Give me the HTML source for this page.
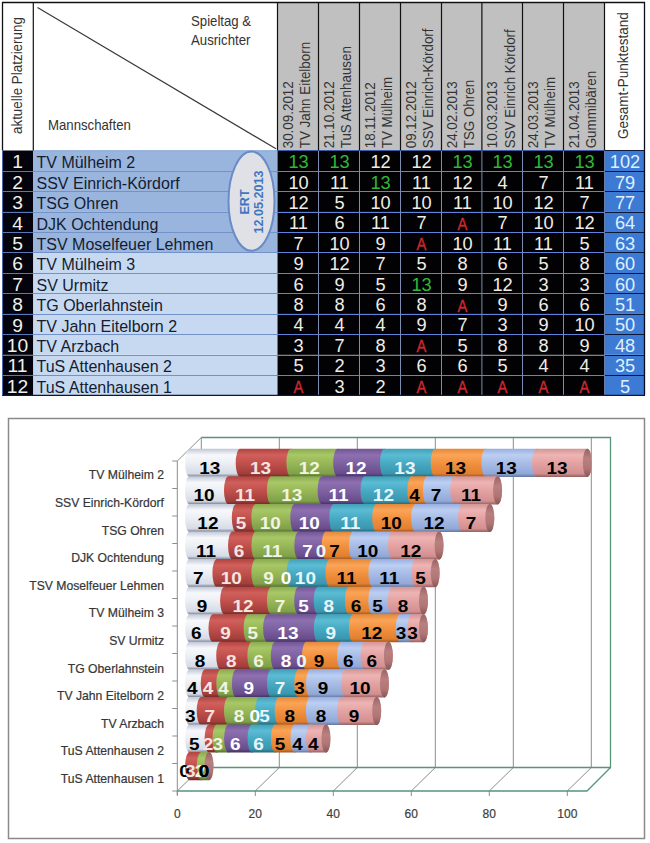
<!DOCTYPE html><html><head><meta charset="utf-8"><style>
html,body{margin:0;padding:0;background:#fff;width:650px;height:843px;overflow:hidden;position:relative}
*{font-family:"Liberation Sans", sans-serif}
.a{position:absolute;white-space:nowrap}
</style></head><body>
<svg class="a" style="left:0;top:0" width="650" height="400"><rect x="2" y="2" width="643" height="148.5" fill="#fff"/><rect x="277.5" y="2" width="327.0" height="148.5" fill="#c0c0c0"/><rect x="2.5" y="150.50" width="30.799999999999997" height="20.60" fill="#02030c"/><rect x="33.3" y="150.50" width="244.2" height="20.60" fill="#99b5dd"/><rect x="277.5" y="150.50" width="327.0" height="20.60" fill="#020204"/><rect x="604.5" y="150.50" width="40.299999999999955" height="20.60" fill="#3c7ad4"/><rect x="2.5" y="170.90" width="30.799999999999997" height="20.60" fill="#02030c"/><rect x="33.3" y="170.90" width="244.2" height="20.60" fill="#99b5dd"/><rect x="277.5" y="170.90" width="327.0" height="20.60" fill="#020204"/><rect x="604.5" y="170.90" width="40.299999999999955" height="20.60" fill="#3c7ad4"/><rect x="2.5" y="191.30" width="30.799999999999997" height="20.60" fill="#02030c"/><rect x="33.3" y="191.30" width="244.2" height="20.60" fill="#99b5dd"/><rect x="277.5" y="191.30" width="327.0" height="20.60" fill="#020204"/><rect x="604.5" y="191.30" width="40.299999999999955" height="20.60" fill="#3c7ad4"/><rect x="2.5" y="211.70" width="30.799999999999997" height="20.60" fill="#02030c"/><rect x="33.3" y="211.70" width="244.2" height="20.60" fill="#99b5dd"/><rect x="277.5" y="211.70" width="327.0" height="20.60" fill="#020204"/><rect x="604.5" y="211.70" width="40.299999999999955" height="20.60" fill="#3c7ad4"/><rect x="2.5" y="232.10" width="30.799999999999997" height="20.60" fill="#02030c"/><rect x="33.3" y="232.10" width="244.2" height="20.60" fill="#99b5dd"/><rect x="277.5" y="232.10" width="327.0" height="20.60" fill="#020204"/><rect x="604.5" y="232.10" width="40.299999999999955" height="20.60" fill="#3c7ad4"/><rect x="2.5" y="252.50" width="30.799999999999997" height="20.60" fill="#02030c"/><rect x="33.3" y="252.50" width="244.2" height="20.60" fill="#c6d9f1"/><rect x="277.5" y="252.50" width="327.0" height="20.60" fill="#020204"/><rect x="604.5" y="252.50" width="40.299999999999955" height="20.60" fill="#3c7ad4"/><rect x="2.5" y="272.90" width="30.799999999999997" height="20.60" fill="#02030c"/><rect x="33.3" y="272.90" width="244.2" height="20.60" fill="#c6d9f1"/><rect x="277.5" y="272.90" width="327.0" height="20.60" fill="#020204"/><rect x="604.5" y="272.90" width="40.299999999999955" height="20.60" fill="#3c7ad4"/><rect x="2.5" y="293.30" width="30.799999999999997" height="20.60" fill="#02030c"/><rect x="33.3" y="293.30" width="244.2" height="20.60" fill="#c6d9f1"/><rect x="277.5" y="293.30" width="327.0" height="20.60" fill="#020204"/><rect x="604.5" y="293.30" width="40.299999999999955" height="20.60" fill="#3c7ad4"/><rect x="2.5" y="313.70" width="30.799999999999997" height="20.60" fill="#02030c"/><rect x="33.3" y="313.70" width="244.2" height="20.60" fill="#c6d9f1"/><rect x="277.5" y="313.70" width="327.0" height="20.60" fill="#020204"/><rect x="604.5" y="313.70" width="40.299999999999955" height="20.60" fill="#3c7ad4"/><rect x="2.5" y="334.10" width="30.799999999999997" height="20.60" fill="#02030c"/><rect x="33.3" y="334.10" width="244.2" height="20.60" fill="#c6d9f1"/><rect x="277.5" y="334.10" width="327.0" height="20.60" fill="#020204"/><rect x="604.5" y="334.10" width="40.299999999999955" height="20.60" fill="#3c7ad4"/><rect x="2.5" y="354.50" width="30.799999999999997" height="20.60" fill="#02030c"/><rect x="33.3" y="354.50" width="244.2" height="20.60" fill="#c6d9f1"/><rect x="277.5" y="354.50" width="327.0" height="20.60" fill="#020204"/><rect x="604.5" y="354.50" width="40.299999999999955" height="20.60" fill="#3c7ad4"/><rect x="2.5" y="374.90" width="30.799999999999997" height="20.60" fill="#02030c"/><rect x="33.3" y="374.90" width="244.2" height="20.60" fill="#c6d9f1"/><rect x="277.5" y="374.90" width="327.0" height="20.60" fill="#020204"/><rect x="604.5" y="374.90" width="40.299999999999955" height="20.60" fill="#3c7ad4"/><line x1="277.5" y1="150.50" x2="604.5" y2="150.50" stroke="#3a5ca8" stroke-width="1"/><line x1="33" y1="150.80" x2="277.5" y2="150.80" stroke="#88a8d8" stroke-width="1"/><line x1="604.5" y1="150.50" x2="644.8" y2="150.50" stroke="#0c1a3a" stroke-width="1.2"/><line x1="2.5" y1="171.50" x2="33" y2="171.50" stroke="#5a78b4" stroke-width="1"/><line x1="33" y1="171.50" x2="277.5" y2="171.50" stroke="#7292c8" stroke-width="1"/><line x1="277.5" y1="171.50" x2="604.5" y2="171.50" stroke="#5f82da" stroke-width="1"/><line x1="604.5" y1="171.50" x2="644.8" y2="171.50" stroke="#0a1838" stroke-width="1.2"/><line x1="2.5" y1="191.50" x2="33" y2="191.50" stroke="#5a78b4" stroke-width="1"/><line x1="33" y1="191.50" x2="277.5" y2="191.50" stroke="#7292c8" stroke-width="1"/><line x1="277.5" y1="191.50" x2="604.5" y2="191.50" stroke="#5f82da" stroke-width="1"/><line x1="604.5" y1="191.50" x2="644.8" y2="191.50" stroke="#0a1838" stroke-width="1.2"/><line x1="2.5" y1="212.50" x2="33" y2="212.50" stroke="#5a78b4" stroke-width="1"/><line x1="33" y1="212.50" x2="277.5" y2="212.50" stroke="#7292c8" stroke-width="1"/><line x1="277.5" y1="212.50" x2="604.5" y2="212.50" stroke="#5f82da" stroke-width="1"/><line x1="604.5" y1="212.50" x2="644.8" y2="212.50" stroke="#0a1838" stroke-width="1.2"/><line x1="2.5" y1="232.50" x2="33" y2="232.50" stroke="#5a78b4" stroke-width="1"/><line x1="33" y1="232.50" x2="277.5" y2="232.50" stroke="#7292c8" stroke-width="1"/><line x1="277.5" y1="232.50" x2="604.5" y2="232.50" stroke="#5f82da" stroke-width="1"/><line x1="604.5" y1="232.50" x2="644.8" y2="232.50" stroke="#0a1838" stroke-width="1.2"/><line x1="2.5" y1="252.50" x2="33" y2="252.50" stroke="#5a78b4" stroke-width="1"/><line x1="33" y1="252.50" x2="277.5" y2="252.50" stroke="#7292c8" stroke-width="1"/><line x1="277.5" y1="252.50" x2="604.5" y2="252.50" stroke="#5f82da" stroke-width="1"/><line x1="604.5" y1="252.50" x2="644.8" y2="252.50" stroke="#0a1838" stroke-width="1.2"/><line x1="2.5" y1="273.50" x2="33" y2="273.50" stroke="#5a78b4" stroke-width="1"/><line x1="33" y1="273.50" x2="277.5" y2="273.50" stroke="#7292c8" stroke-width="1"/><line x1="277.5" y1="273.50" x2="604.5" y2="273.50" stroke="#5f82da" stroke-width="1"/><line x1="604.5" y1="273.50" x2="644.8" y2="273.50" stroke="#0a1838" stroke-width="1.2"/><line x1="2.5" y1="293.50" x2="33" y2="293.50" stroke="#5a78b4" stroke-width="1"/><line x1="33" y1="293.50" x2="277.5" y2="293.50" stroke="#7292c8" stroke-width="1"/><line x1="277.5" y1="293.50" x2="604.5" y2="293.50" stroke="#5f82da" stroke-width="1"/><line x1="604.5" y1="293.50" x2="644.8" y2="293.50" stroke="#0a1838" stroke-width="1.2"/><line x1="2.5" y1="314.50" x2="33" y2="314.50" stroke="#5a78b4" stroke-width="1"/><line x1="33" y1="314.50" x2="277.5" y2="314.50" stroke="#7292c8" stroke-width="1"/><line x1="277.5" y1="314.50" x2="604.5" y2="314.50" stroke="#5f82da" stroke-width="1"/><line x1="604.5" y1="314.50" x2="644.8" y2="314.50" stroke="#0a1838" stroke-width="1.2"/><line x1="2.5" y1="334.50" x2="33" y2="334.50" stroke="#5a78b4" stroke-width="1"/><line x1="33" y1="334.50" x2="277.5" y2="334.50" stroke="#7292c8" stroke-width="1"/><line x1="277.5" y1="334.50" x2="604.5" y2="334.50" stroke="#5f82da" stroke-width="1"/><line x1="604.5" y1="334.50" x2="644.8" y2="334.50" stroke="#0a1838" stroke-width="1.2"/><line x1="2.5" y1="355.50" x2="33" y2="355.50" stroke="#5a78b4" stroke-width="1"/><line x1="33" y1="355.50" x2="277.5" y2="355.50" stroke="#7292c8" stroke-width="1"/><line x1="277.5" y1="355.50" x2="604.5" y2="355.50" stroke="#5f82da" stroke-width="1"/><line x1="604.5" y1="355.50" x2="644.8" y2="355.50" stroke="#0a1838" stroke-width="1.2"/><line x1="2.5" y1="375.50" x2="33" y2="375.50" stroke="#5a78b4" stroke-width="1"/><line x1="33" y1="375.50" x2="277.5" y2="375.50" stroke="#7292c8" stroke-width="1"/><line x1="277.5" y1="375.50" x2="604.5" y2="375.50" stroke="#5f82da" stroke-width="1"/><line x1="604.5" y1="375.50" x2="644.8" y2="375.50" stroke="#0a1838" stroke-width="1.2"/><line x1="318.50" y1="150.5" x2="318.50" y2="395.30" stroke="#7c8cb0" stroke-width="1"/><line x1="359.50" y1="150.5" x2="359.50" y2="395.30" stroke="#7c8cb0" stroke-width="1"/><line x1="400.50" y1="150.5" x2="400.50" y2="395.30" stroke="#7c8cb0" stroke-width="1"/><line x1="441.50" y1="150.5" x2="441.50" y2="395.30" stroke="#7c8cb0" stroke-width="1"/><line x1="481.90" y1="150.5" x2="481.90" y2="395.30" stroke="#7c8cb0" stroke-width="1"/><line x1="522.50" y1="150.5" x2="522.50" y2="395.30" stroke="#7c8cb0" stroke-width="1"/><line x1="563.50" y1="150.5" x2="563.50" y2="395.30" stroke="#7c8cb0" stroke-width="1"/><line x1="604.50" y1="150.5" x2="604.50" y2="395.30" stroke="#6a7ca8" stroke-width="1"/><line x1="33.30" y1="2" x2="33.30" y2="150.50" stroke="#111" stroke-width="1.2"/><line x1="277.50" y1="2" x2="277.50" y2="150.50" stroke="#111" stroke-width="1.2"/><line x1="318.50" y1="2" x2="318.50" y2="150.50" stroke="#111" stroke-width="1.2"/><line x1="359.50" y1="2" x2="359.50" y2="150.50" stroke="#111" stroke-width="1.2"/><line x1="400.50" y1="2" x2="400.50" y2="150.50" stroke="#111" stroke-width="1.2"/><line x1="441.50" y1="2" x2="441.50" y2="150.50" stroke="#111" stroke-width="1.2"/><line x1="481.90" y1="2" x2="481.90" y2="150.50" stroke="#111" stroke-width="1.2"/><line x1="522.50" y1="2" x2="522.50" y2="150.50" stroke="#111" stroke-width="1.2"/><line x1="563.50" y1="2" x2="563.50" y2="150.50" stroke="#111" stroke-width="1.2"/><line x1="604.50" y1="2" x2="604.50" y2="150.50" stroke="#111" stroke-width="1.2"/><line x1="2" y1="2.5" x2="645" y2="2.5" stroke="#111" stroke-width="1.3"/><line x1="2.5" y1="2" x2="2.5" y2="150.5" stroke="#111" stroke-width="1.3"/><line x1="644.50" y1="2" x2="644.50" y2="395.30" stroke="#0a0f20" stroke-width="1.3"/><line x1="2" y1="395.30" x2="645" y2="395.30" stroke="#0c1838" stroke-width="1.2"/><line x1="2.5" y1="150.5" x2="2.5" y2="395.30" stroke="#4a68a8" stroke-width="1"/><line x1="37.5" y1="7.5" x2="276" y2="148.8" stroke="#3a3a3a" stroke-width="1.2"/><ellipse cx="251.5" cy="201.2" rx="23" ry="49.6" fill="#e0e1e7" stroke="#6a8cc6" stroke-width="2"/></svg>
<div class="a" style="left:191px;top:11.5px;font-size:13.2px;line-height:17.5px;color:#333;transform:scaleY(1.07);transform-origin:0 0">Spieltag &amp;<br>Ausrichter</div>
<div class="a" style="left:48px;top:117.3px;font-size:13.2px;line-height:15px;color:#333;transform:scaleY(1.07);transform-origin:0 0">Mannschaften</div>
<div class="a" style="left:0;top:0;transform:translate(9.00px,134.00px) rotate(-90deg) scaleY(1.1);transform-origin:0 0;font-size:13.4px;line-height:16px;color:#333">aktuelle Platzierung</div>
<div class="a" style="left:0;top:0;transform:translate(279.40px,148.30px) rotate(-90deg) scaleY(1.1);transform-origin:0 0;font-size:13.4px;line-height:16px;color:#333">30.09.2012<br>TV Jahn Eitelborn</div>
<div class="a" style="left:0;top:0;transform:translate(320.40px,148.30px) rotate(-90deg) scaleY(1.1);transform-origin:0 0;font-size:13.4px;line-height:16px;color:#333">21.10.2012<br>TuS Attenhausen</div>
<div class="a" style="left:0;top:0;transform:translate(361.40px,148.30px) rotate(-90deg) scaleY(1.1);transform-origin:0 0;font-size:13.4px;line-height:16px;color:#333">18.11.2012<br>TV Mülheim</div>
<div class="a" style="left:0;top:0;transform:translate(402.40px,148.30px) rotate(-90deg) scaleY(1.1);transform-origin:0 0;font-size:13.4px;line-height:16px;color:#333">09.12.2012<br>SSV Einrich-Kördorf</div>
<div class="a" style="left:0;top:0;transform:translate(443.40px,148.30px) rotate(-90deg) scaleY(1.1);transform-origin:0 0;font-size:13.4px;line-height:16px;color:#333">24.02.2013<br>TSG Ohren</div>
<div class="a" style="left:0;top:0;transform:translate(483.80px,148.30px) rotate(-90deg) scaleY(1.1);transform-origin:0 0;font-size:13.4px;line-height:16px;color:#333">10.03.2013<br>SSV Einrich Kördorf</div>
<div class="a" style="left:0;top:0;transform:translate(524.40px,148.30px) rotate(-90deg) scaleY(1.1);transform-origin:0 0;font-size:13.4px;line-height:16px;color:#333">24.03.2013<br>TV Mülheim</div>
<div class="a" style="left:0;top:0;transform:translate(565.40px,148.30px) rotate(-90deg) scaleY(1.1);transform-origin:0 0;font-size:13.4px;line-height:16px;color:#333">21.04.2013<br>Gummibären</div>
<div class="a" style="left:0;top:0;transform:translate(614.50px,139.00px) rotate(-90deg) scaleY(1.12);transform-origin:0 0;font-size:13.5px;line-height:16px;color:#333">Gesamt-Punktestand</div>
<div class="a" style="left:237.5px;top:250.2px;transform:rotate(-90deg);transform-origin:0 0;font-size:12.6px;line-height:14px;font-weight:bold;color:#4076c0;text-align:center;width:96px">ERT<br>12.05.2013</div>
<div class="a" style="left:2px;top:152.4px;width:31px;text-align:center;font-size:17.5px;line-height:21px;color:#f2f0e8;transform:scaleX(1.1)">1</div>
<div class="a" style="left:36.5px;top:152.3px;font-size:16px;line-height:21px;color:#141c30;transform:scaleY(1.03)">TV Mülheim 2</div>
<div class="a" style="left:277.5px;top:152.2px;width:41px;text-align:center;font-size:17.5px;line-height:21px;color:#2fba35;transform:scaleX(1.04)">13</div>
<div class="a" style="left:318.5px;top:152.2px;width:41px;text-align:center;font-size:17.5px;line-height:21px;color:#2fba35;transform:scaleX(1.04)">13</div>
<div class="a" style="left:359.5px;top:152.2px;width:41px;text-align:center;font-size:17.5px;line-height:21px;color:#f0ede4;transform:scaleX(1.04)">12</div>
<div class="a" style="left:400.5px;top:152.2px;width:41px;text-align:center;font-size:17.5px;line-height:21px;color:#f0ede4;transform:scaleX(1.04)">12</div>
<div class="a" style="left:441.5px;top:152.2px;width:41px;text-align:center;font-size:17.5px;line-height:21px;color:#2fba35;transform:scaleX(1.04)">13</div>
<div class="a" style="left:481.9px;top:152.2px;width:41px;text-align:center;font-size:17.5px;line-height:21px;color:#2fba35;transform:scaleX(1.04)">13</div>
<div class="a" style="left:522.5px;top:152.2px;width:41px;text-align:center;font-size:17.5px;line-height:21px;color:#2fba35;transform:scaleX(1.04)">13</div>
<div class="a" style="left:563.5px;top:152.2px;width:41px;text-align:center;font-size:17.5px;line-height:21px;color:#2fba35;transform:scaleX(1.04)">13</div>
<div class="a" style="left:604.5px;top:152.2px;width:40px;text-align:center;font-size:17.5px;line-height:21px;color:#def0ff;transform:scaleX(1.04)">102</div>
<div class="a" style="left:2px;top:172.8px;width:31px;text-align:center;font-size:17.5px;line-height:21px;color:#f2f0e8;transform:scaleX(1.1)">2</div>
<div class="a" style="left:36.5px;top:172.7px;font-size:16px;line-height:21px;color:#141c30;transform:scaleY(1.03)">SSV Einrich-Kördorf</div>
<div class="a" style="left:277.5px;top:172.6px;width:41px;text-align:center;font-size:17.5px;line-height:21px;color:#f0ede4;transform:scaleX(1.04)">10</div>
<div class="a" style="left:318.5px;top:172.6px;width:41px;text-align:center;font-size:17.5px;line-height:21px;color:#f0ede4;transform:scaleX(1.04)">11</div>
<div class="a" style="left:359.5px;top:172.6px;width:41px;text-align:center;font-size:17.5px;line-height:21px;color:#2fba35;transform:scaleX(1.04)">13</div>
<div class="a" style="left:400.5px;top:172.6px;width:41px;text-align:center;font-size:17.5px;line-height:21px;color:#f0ede4;transform:scaleX(1.04)">11</div>
<div class="a" style="left:441.5px;top:172.6px;width:41px;text-align:center;font-size:17.5px;line-height:21px;color:#f0ede4;transform:scaleX(1.04)">12</div>
<div class="a" style="left:481.9px;top:172.6px;width:41px;text-align:center;font-size:17.5px;line-height:21px;color:#f0ede4;transform:scaleX(1.04)">4</div>
<div class="a" style="left:522.5px;top:172.6px;width:41px;text-align:center;font-size:17.5px;line-height:21px;color:#f0ede4;transform:scaleX(1.04)">7</div>
<div class="a" style="left:563.5px;top:172.6px;width:41px;text-align:center;font-size:17.5px;line-height:21px;color:#f0ede4;transform:scaleX(1.04)">11</div>
<div class="a" style="left:604.5px;top:172.6px;width:40px;text-align:center;font-size:17.5px;line-height:21px;color:#def0ff;transform:scaleX(1.04)">79</div>
<div class="a" style="left:2px;top:193.2px;width:31px;text-align:center;font-size:17.5px;line-height:21px;color:#f2f0e8;transform:scaleX(1.1)">3</div>
<div class="a" style="left:36.5px;top:193.1px;font-size:16px;line-height:21px;color:#141c30;transform:scaleY(1.03)">TSG Ohren</div>
<div class="a" style="left:277.5px;top:193.0px;width:41px;text-align:center;font-size:17.5px;line-height:21px;color:#f0ede4;transform:scaleX(1.04)">12</div>
<div class="a" style="left:318.5px;top:193.0px;width:41px;text-align:center;font-size:17.5px;line-height:21px;color:#f0ede4;transform:scaleX(1.04)">5</div>
<div class="a" style="left:359.5px;top:193.0px;width:41px;text-align:center;font-size:17.5px;line-height:21px;color:#f0ede4;transform:scaleX(1.04)">10</div>
<div class="a" style="left:400.5px;top:193.0px;width:41px;text-align:center;font-size:17.5px;line-height:21px;color:#f0ede4;transform:scaleX(1.04)">10</div>
<div class="a" style="left:441.5px;top:193.0px;width:41px;text-align:center;font-size:17.5px;line-height:21px;color:#f0ede4;transform:scaleX(1.04)">11</div>
<div class="a" style="left:481.9px;top:193.0px;width:41px;text-align:center;font-size:17.5px;line-height:21px;color:#f0ede4;transform:scaleX(1.04)">10</div>
<div class="a" style="left:522.5px;top:193.0px;width:41px;text-align:center;font-size:17.5px;line-height:21px;color:#f0ede4;transform:scaleX(1.04)">12</div>
<div class="a" style="left:563.5px;top:193.0px;width:41px;text-align:center;font-size:17.5px;line-height:21px;color:#f0ede4;transform:scaleX(1.04)">7</div>
<div class="a" style="left:604.5px;top:193.0px;width:40px;text-align:center;font-size:17.5px;line-height:21px;color:#def0ff;transform:scaleX(1.04)">77</div>
<div class="a" style="left:2px;top:213.6px;width:31px;text-align:center;font-size:17.5px;line-height:21px;color:#f2f0e8;transform:scaleX(1.1)">4</div>
<div class="a" style="left:36.5px;top:213.5px;font-size:16px;line-height:21px;color:#141c30;transform:scaleY(1.03)">DJK Ochtendung</div>
<div class="a" style="left:277.5px;top:213.4px;width:41px;text-align:center;font-size:17.5px;line-height:21px;color:#f0ede4;transform:scaleX(1.04)">11</div>
<div class="a" style="left:318.5px;top:213.4px;width:41px;text-align:center;font-size:17.5px;line-height:21px;color:#f0ede4;transform:scaleX(1.04)">6</div>
<div class="a" style="left:359.5px;top:213.4px;width:41px;text-align:center;font-size:17.5px;line-height:21px;color:#f0ede4;transform:scaleX(1.04)">11</div>
<div class="a" style="left:400.5px;top:213.4px;width:41px;text-align:center;font-size:17.5px;line-height:21px;color:#f0ede4;transform:scaleX(1.04)">7</div>
<div class="a" style="left:441.5px;top:214.0px;width:41px;text-align:center;font-size:16px;line-height:21px;color:#d02830;transform:scaleX(0.92);-webkit-text-stroke:0.35px #d02830">A</div>
<div class="a" style="left:481.9px;top:213.4px;width:41px;text-align:center;font-size:17.5px;line-height:21px;color:#f0ede4;transform:scaleX(1.04)">7</div>
<div class="a" style="left:522.5px;top:213.4px;width:41px;text-align:center;font-size:17.5px;line-height:21px;color:#f0ede4;transform:scaleX(1.04)">10</div>
<div class="a" style="left:563.5px;top:213.4px;width:41px;text-align:center;font-size:17.5px;line-height:21px;color:#f0ede4;transform:scaleX(1.04)">12</div>
<div class="a" style="left:604.5px;top:213.4px;width:40px;text-align:center;font-size:17.5px;line-height:21px;color:#def0ff;transform:scaleX(1.04)">64</div>
<div class="a" style="left:2px;top:234.0px;width:31px;text-align:center;font-size:17.5px;line-height:21px;color:#f2f0e8;transform:scaleX(1.1)">5</div>
<div class="a" style="left:36.5px;top:233.9px;font-size:16px;line-height:21px;color:#141c30;transform:scaleY(1.03)">TSV Moselfeuer Lehmen</div>
<div class="a" style="left:277.5px;top:233.8px;width:41px;text-align:center;font-size:17.5px;line-height:21px;color:#f0ede4;transform:scaleX(1.04)">7</div>
<div class="a" style="left:318.5px;top:233.8px;width:41px;text-align:center;font-size:17.5px;line-height:21px;color:#f0ede4;transform:scaleX(1.04)">10</div>
<div class="a" style="left:359.5px;top:233.8px;width:41px;text-align:center;font-size:17.5px;line-height:21px;color:#f0ede4;transform:scaleX(1.04)">9</div>
<div class="a" style="left:400.5px;top:234.4px;width:41px;text-align:center;font-size:16px;line-height:21px;color:#d02830;transform:scaleX(0.92);-webkit-text-stroke:0.35px #d02830">A</div>
<div class="a" style="left:441.5px;top:233.8px;width:41px;text-align:center;font-size:17.5px;line-height:21px;color:#f0ede4;transform:scaleX(1.04)">10</div>
<div class="a" style="left:481.9px;top:233.8px;width:41px;text-align:center;font-size:17.5px;line-height:21px;color:#f0ede4;transform:scaleX(1.04)">11</div>
<div class="a" style="left:522.5px;top:233.8px;width:41px;text-align:center;font-size:17.5px;line-height:21px;color:#f0ede4;transform:scaleX(1.04)">11</div>
<div class="a" style="left:563.5px;top:233.8px;width:41px;text-align:center;font-size:17.5px;line-height:21px;color:#f0ede4;transform:scaleX(1.04)">5</div>
<div class="a" style="left:604.5px;top:233.8px;width:40px;text-align:center;font-size:17.5px;line-height:21px;color:#def0ff;transform:scaleX(1.04)">63</div>
<div class="a" style="left:2px;top:254.4px;width:31px;text-align:center;font-size:17.5px;line-height:21px;color:#f2f0e8;transform:scaleX(1.1)">6</div>
<div class="a" style="left:36.5px;top:254.3px;font-size:16px;line-height:21px;color:#141c30;transform:scaleY(1.03)">TV Mülheim 3</div>
<div class="a" style="left:277.5px;top:254.2px;width:41px;text-align:center;font-size:17.5px;line-height:21px;color:#f0ede4;transform:scaleX(1.04)">9</div>
<div class="a" style="left:318.5px;top:254.2px;width:41px;text-align:center;font-size:17.5px;line-height:21px;color:#f0ede4;transform:scaleX(1.04)">12</div>
<div class="a" style="left:359.5px;top:254.2px;width:41px;text-align:center;font-size:17.5px;line-height:21px;color:#f0ede4;transform:scaleX(1.04)">7</div>
<div class="a" style="left:400.5px;top:254.2px;width:41px;text-align:center;font-size:17.5px;line-height:21px;color:#f0ede4;transform:scaleX(1.04)">5</div>
<div class="a" style="left:441.5px;top:254.2px;width:41px;text-align:center;font-size:17.5px;line-height:21px;color:#f0ede4;transform:scaleX(1.04)">8</div>
<div class="a" style="left:481.9px;top:254.2px;width:41px;text-align:center;font-size:17.5px;line-height:21px;color:#f0ede4;transform:scaleX(1.04)">6</div>
<div class="a" style="left:522.5px;top:254.2px;width:41px;text-align:center;font-size:17.5px;line-height:21px;color:#f0ede4;transform:scaleX(1.04)">5</div>
<div class="a" style="left:563.5px;top:254.2px;width:41px;text-align:center;font-size:17.5px;line-height:21px;color:#f0ede4;transform:scaleX(1.04)">8</div>
<div class="a" style="left:604.5px;top:254.2px;width:40px;text-align:center;font-size:17.5px;line-height:21px;color:#def0ff;transform:scaleX(1.04)">60</div>
<div class="a" style="left:2px;top:274.8px;width:31px;text-align:center;font-size:17.5px;line-height:21px;color:#f2f0e8;transform:scaleX(1.1)">7</div>
<div class="a" style="left:36.5px;top:274.7px;font-size:16px;line-height:21px;color:#141c30;transform:scaleY(1.03)">SV Urmitz</div>
<div class="a" style="left:277.5px;top:274.6px;width:41px;text-align:center;font-size:17.5px;line-height:21px;color:#f0ede4;transform:scaleX(1.04)">6</div>
<div class="a" style="left:318.5px;top:274.6px;width:41px;text-align:center;font-size:17.5px;line-height:21px;color:#f0ede4;transform:scaleX(1.04)">9</div>
<div class="a" style="left:359.5px;top:274.6px;width:41px;text-align:center;font-size:17.5px;line-height:21px;color:#f0ede4;transform:scaleX(1.04)">5</div>
<div class="a" style="left:400.5px;top:274.6px;width:41px;text-align:center;font-size:17.5px;line-height:21px;color:#2fba35;transform:scaleX(1.04)">13</div>
<div class="a" style="left:441.5px;top:274.6px;width:41px;text-align:center;font-size:17.5px;line-height:21px;color:#f0ede4;transform:scaleX(1.04)">9</div>
<div class="a" style="left:481.9px;top:274.6px;width:41px;text-align:center;font-size:17.5px;line-height:21px;color:#f0ede4;transform:scaleX(1.04)">12</div>
<div class="a" style="left:522.5px;top:274.6px;width:41px;text-align:center;font-size:17.5px;line-height:21px;color:#f0ede4;transform:scaleX(1.04)">3</div>
<div class="a" style="left:563.5px;top:274.6px;width:41px;text-align:center;font-size:17.5px;line-height:21px;color:#f0ede4;transform:scaleX(1.04)">3</div>
<div class="a" style="left:604.5px;top:274.6px;width:40px;text-align:center;font-size:17.5px;line-height:21px;color:#def0ff;transform:scaleX(1.04)">60</div>
<div class="a" style="left:2px;top:295.2px;width:31px;text-align:center;font-size:17.5px;line-height:21px;color:#f2f0e8;transform:scaleX(1.1)">8</div>
<div class="a" style="left:36.5px;top:295.1px;font-size:16px;line-height:21px;color:#141c30;transform:scaleY(1.03)">TG Oberlahnstein</div>
<div class="a" style="left:277.5px;top:295.0px;width:41px;text-align:center;font-size:17.5px;line-height:21px;color:#f0ede4;transform:scaleX(1.04)">8</div>
<div class="a" style="left:318.5px;top:295.0px;width:41px;text-align:center;font-size:17.5px;line-height:21px;color:#f0ede4;transform:scaleX(1.04)">8</div>
<div class="a" style="left:359.5px;top:295.0px;width:41px;text-align:center;font-size:17.5px;line-height:21px;color:#f0ede4;transform:scaleX(1.04)">6</div>
<div class="a" style="left:400.5px;top:295.0px;width:41px;text-align:center;font-size:17.5px;line-height:21px;color:#f0ede4;transform:scaleX(1.04)">8</div>
<div class="a" style="left:441.5px;top:295.6px;width:41px;text-align:center;font-size:16px;line-height:21px;color:#d02830;transform:scaleX(0.92);-webkit-text-stroke:0.35px #d02830">A</div>
<div class="a" style="left:481.9px;top:295.0px;width:41px;text-align:center;font-size:17.5px;line-height:21px;color:#f0ede4;transform:scaleX(1.04)">9</div>
<div class="a" style="left:522.5px;top:295.0px;width:41px;text-align:center;font-size:17.5px;line-height:21px;color:#f0ede4;transform:scaleX(1.04)">6</div>
<div class="a" style="left:563.5px;top:295.0px;width:41px;text-align:center;font-size:17.5px;line-height:21px;color:#f0ede4;transform:scaleX(1.04)">6</div>
<div class="a" style="left:604.5px;top:295.0px;width:40px;text-align:center;font-size:17.5px;line-height:21px;color:#def0ff;transform:scaleX(1.04)">51</div>
<div class="a" style="left:2px;top:315.6px;width:31px;text-align:center;font-size:17.5px;line-height:21px;color:#f2f0e8;transform:scaleX(1.1)">9</div>
<div class="a" style="left:36.5px;top:315.5px;font-size:16px;line-height:21px;color:#141c30;transform:scaleY(1.03)">TV Jahn Eitelborn 2</div>
<div class="a" style="left:277.5px;top:315.4px;width:41px;text-align:center;font-size:17.5px;line-height:21px;color:#f0ede4;transform:scaleX(1.04)">4</div>
<div class="a" style="left:318.5px;top:315.4px;width:41px;text-align:center;font-size:17.5px;line-height:21px;color:#f0ede4;transform:scaleX(1.04)">4</div>
<div class="a" style="left:359.5px;top:315.4px;width:41px;text-align:center;font-size:17.5px;line-height:21px;color:#f0ede4;transform:scaleX(1.04)">4</div>
<div class="a" style="left:400.5px;top:315.4px;width:41px;text-align:center;font-size:17.5px;line-height:21px;color:#f0ede4;transform:scaleX(1.04)">9</div>
<div class="a" style="left:441.5px;top:315.4px;width:41px;text-align:center;font-size:17.5px;line-height:21px;color:#f0ede4;transform:scaleX(1.04)">7</div>
<div class="a" style="left:481.9px;top:315.4px;width:41px;text-align:center;font-size:17.5px;line-height:21px;color:#f0ede4;transform:scaleX(1.04)">3</div>
<div class="a" style="left:522.5px;top:315.4px;width:41px;text-align:center;font-size:17.5px;line-height:21px;color:#f0ede4;transform:scaleX(1.04)">9</div>
<div class="a" style="left:563.5px;top:315.4px;width:41px;text-align:center;font-size:17.5px;line-height:21px;color:#f0ede4;transform:scaleX(1.04)">10</div>
<div class="a" style="left:604.5px;top:315.4px;width:40px;text-align:center;font-size:17.5px;line-height:21px;color:#def0ff;transform:scaleX(1.04)">50</div>
<div class="a" style="left:2px;top:336.0px;width:31px;text-align:center;font-size:17.5px;line-height:21px;color:#f2f0e8;transform:scaleX(1.1)">10</div>
<div class="a" style="left:36.5px;top:335.9px;font-size:16px;line-height:21px;color:#141c30;transform:scaleY(1.03)">TV Arzbach</div>
<div class="a" style="left:277.5px;top:335.8px;width:41px;text-align:center;font-size:17.5px;line-height:21px;color:#f0ede4;transform:scaleX(1.04)">3</div>
<div class="a" style="left:318.5px;top:335.8px;width:41px;text-align:center;font-size:17.5px;line-height:21px;color:#f0ede4;transform:scaleX(1.04)">7</div>
<div class="a" style="left:359.5px;top:335.8px;width:41px;text-align:center;font-size:17.5px;line-height:21px;color:#f0ede4;transform:scaleX(1.04)">8</div>
<div class="a" style="left:400.5px;top:336.4px;width:41px;text-align:center;font-size:16px;line-height:21px;color:#d02830;transform:scaleX(0.92);-webkit-text-stroke:0.35px #d02830">A</div>
<div class="a" style="left:441.5px;top:335.8px;width:41px;text-align:center;font-size:17.5px;line-height:21px;color:#f0ede4;transform:scaleX(1.04)">5</div>
<div class="a" style="left:481.9px;top:335.8px;width:41px;text-align:center;font-size:17.5px;line-height:21px;color:#f0ede4;transform:scaleX(1.04)">8</div>
<div class="a" style="left:522.5px;top:335.8px;width:41px;text-align:center;font-size:17.5px;line-height:21px;color:#f0ede4;transform:scaleX(1.04)">8</div>
<div class="a" style="left:563.5px;top:335.8px;width:41px;text-align:center;font-size:17.5px;line-height:21px;color:#f0ede4;transform:scaleX(1.04)">9</div>
<div class="a" style="left:604.5px;top:335.8px;width:40px;text-align:center;font-size:17.5px;line-height:21px;color:#def0ff;transform:scaleX(1.04)">48</div>
<div class="a" style="left:2px;top:356.4px;width:31px;text-align:center;font-size:17.5px;line-height:21px;color:#f2f0e8;transform:scaleX(1.1)">11</div>
<div class="a" style="left:36.5px;top:356.3px;font-size:16px;line-height:21px;color:#141c30;transform:scaleY(1.03)">TuS Attenhausen 2</div>
<div class="a" style="left:277.5px;top:356.2px;width:41px;text-align:center;font-size:17.5px;line-height:21px;color:#f0ede4;transform:scaleX(1.04)">5</div>
<div class="a" style="left:318.5px;top:356.2px;width:41px;text-align:center;font-size:17.5px;line-height:21px;color:#f0ede4;transform:scaleX(1.04)">2</div>
<div class="a" style="left:359.5px;top:356.2px;width:41px;text-align:center;font-size:17.5px;line-height:21px;color:#f0ede4;transform:scaleX(1.04)">3</div>
<div class="a" style="left:400.5px;top:356.2px;width:41px;text-align:center;font-size:17.5px;line-height:21px;color:#f0ede4;transform:scaleX(1.04)">6</div>
<div class="a" style="left:441.5px;top:356.2px;width:41px;text-align:center;font-size:17.5px;line-height:21px;color:#f0ede4;transform:scaleX(1.04)">6</div>
<div class="a" style="left:481.9px;top:356.2px;width:41px;text-align:center;font-size:17.5px;line-height:21px;color:#f0ede4;transform:scaleX(1.04)">5</div>
<div class="a" style="left:522.5px;top:356.2px;width:41px;text-align:center;font-size:17.5px;line-height:21px;color:#f0ede4;transform:scaleX(1.04)">4</div>
<div class="a" style="left:563.5px;top:356.2px;width:41px;text-align:center;font-size:17.5px;line-height:21px;color:#f0ede4;transform:scaleX(1.04)">4</div>
<div class="a" style="left:604.5px;top:356.2px;width:40px;text-align:center;font-size:17.5px;line-height:21px;color:#def0ff;transform:scaleX(1.04)">35</div>
<div class="a" style="left:2px;top:376.8px;width:31px;text-align:center;font-size:17.5px;line-height:21px;color:#f2f0e8;transform:scaleX(1.1)">12</div>
<div class="a" style="left:36.5px;top:376.7px;font-size:16px;line-height:21px;color:#141c30;transform:scaleY(1.03)">TuS Attenhausen 1</div>
<div class="a" style="left:277.5px;top:377.2px;width:41px;text-align:center;font-size:16px;line-height:21px;color:#d02830;transform:scaleX(0.92);-webkit-text-stroke:0.35px #d02830">A</div>
<div class="a" style="left:318.5px;top:376.6px;width:41px;text-align:center;font-size:17.5px;line-height:21px;color:#f0ede4;transform:scaleX(1.04)">3</div>
<div class="a" style="left:359.5px;top:376.6px;width:41px;text-align:center;font-size:17.5px;line-height:21px;color:#f0ede4;transform:scaleX(1.04)">2</div>
<div class="a" style="left:400.5px;top:377.2px;width:41px;text-align:center;font-size:16px;line-height:21px;color:#d02830;transform:scaleX(0.92);-webkit-text-stroke:0.35px #d02830">A</div>
<div class="a" style="left:441.5px;top:377.2px;width:41px;text-align:center;font-size:16px;line-height:21px;color:#d02830;transform:scaleX(0.92);-webkit-text-stroke:0.35px #d02830">A</div>
<div class="a" style="left:481.9px;top:377.2px;width:41px;text-align:center;font-size:16px;line-height:21px;color:#d02830;transform:scaleX(0.92);-webkit-text-stroke:0.35px #d02830">A</div>
<div class="a" style="left:522.5px;top:377.2px;width:41px;text-align:center;font-size:16px;line-height:21px;color:#d02830;transform:scaleX(0.92);-webkit-text-stroke:0.35px #d02830">A</div>
<div class="a" style="left:563.5px;top:377.2px;width:41px;text-align:center;font-size:16px;line-height:21px;color:#d02830;transform:scaleX(0.92);-webkit-text-stroke:0.35px #d02830">A</div>
<div class="a" style="left:604.5px;top:376.6px;width:40px;text-align:center;font-size:17.5px;line-height:21px;color:#def0ff;transform:scaleX(1.04)">5</div>
<svg class="a" style="left:0;top:400px" width="650" height="443"><g transform="translate(0,-400)"><rect x="8.5" y="418.5" width="636" height="420" fill="#fff" stroke="#8a8a8a" stroke-width="1.5"/><line x1="201.3" y1="437.5" x2="201.3" y2="767.5" stroke="#8c8c8c" stroke-width="1"/><line x1="279.3" y1="437.5" x2="279.3" y2="767.5" stroke="#8c8c8c" stroke-width="1"/><line x1="357.3" y1="437.5" x2="357.3" y2="767.5" stroke="#8c8c8c" stroke-width="1"/><line x1="435.3" y1="437.5" x2="435.3" y2="767.5" stroke="#8c8c8c" stroke-width="1"/><line x1="513.3" y1="437.5" x2="513.3" y2="767.5" stroke="#8c8c8c" stroke-width="1"/><line x1="591.3" y1="437.5" x2="591.3" y2="767.5" stroke="#8c8c8c" stroke-width="1"/><line x1="177.3" y1="791.0" x2="201.3" y2="767.5" stroke="#8c8c8c" stroke-width="1"/><line x1="177.3" y1="791.0" x2="177.3" y2="796.0" stroke="#8c8c8c" stroke-width="1"/><line x1="255.3" y1="791.0" x2="279.3" y2="767.5" stroke="#8c8c8c" stroke-width="1"/><line x1="255.3" y1="791.0" x2="255.3" y2="796.0" stroke="#8c8c8c" stroke-width="1"/><line x1="333.3" y1="791.0" x2="357.3" y2="767.5" stroke="#8c8c8c" stroke-width="1"/><line x1="333.3" y1="791.0" x2="333.3" y2="796.0" stroke="#8c8c8c" stroke-width="1"/><line x1="411.3" y1="791.0" x2="435.3" y2="767.5" stroke="#8c8c8c" stroke-width="1"/><line x1="411.3" y1="791.0" x2="411.3" y2="796.0" stroke="#8c8c8c" stroke-width="1"/><line x1="489.3" y1="791.0" x2="513.3" y2="767.5" stroke="#8c8c8c" stroke-width="1"/><line x1="489.3" y1="791.0" x2="489.3" y2="796.0" stroke="#8c8c8c" stroke-width="1"/><line x1="567.3" y1="791.0" x2="591.3" y2="767.5" stroke="#8c8c8c" stroke-width="1"/><line x1="567.3" y1="791.0" x2="567.3" y2="796.0" stroke="#8c8c8c" stroke-width="1"/><line x1="177.3" y1="461.0" x2="177.3" y2="795.0" stroke="#8c8c8c" stroke-width="1"/><line x1="177.3" y1="461.0" x2="201.3" y2="437.5" stroke="#8c8c8c" stroke-width="1"/><line x1="172.3" y1="461.0" x2="177.3" y2="461.0" stroke="#8c8c8c" stroke-width="1"/><line x1="172.3" y1="488.5" x2="177.3" y2="488.5" stroke="#8c8c8c" stroke-width="1"/><line x1="172.3" y1="516.0" x2="177.3" y2="516.0" stroke="#8c8c8c" stroke-width="1"/><line x1="172.3" y1="543.5" x2="177.3" y2="543.5" stroke="#8c8c8c" stroke-width="1"/><line x1="172.3" y1="571.0" x2="177.3" y2="571.0" stroke="#8c8c8c" stroke-width="1"/><line x1="172.3" y1="598.5" x2="177.3" y2="598.5" stroke="#8c8c8c" stroke-width="1"/><line x1="172.3" y1="626.0" x2="177.3" y2="626.0" stroke="#8c8c8c" stroke-width="1"/><line x1="172.3" y1="653.5" x2="177.3" y2="653.5" stroke="#8c8c8c" stroke-width="1"/><line x1="172.3" y1="681.0" x2="177.3" y2="681.0" stroke="#8c8c8c" stroke-width="1"/><line x1="172.3" y1="708.5" x2="177.3" y2="708.5" stroke="#8c8c8c" stroke-width="1"/><line x1="172.3" y1="736.0" x2="177.3" y2="736.0" stroke="#8c8c8c" stroke-width="1"/><line x1="172.3" y1="763.5" x2="177.3" y2="763.5" stroke="#8c8c8c" stroke-width="1"/><line x1="172.3" y1="791.0" x2="177.3" y2="791.0" stroke="#8c8c8c" stroke-width="1"/><polyline points="201.3,437.5 610.5,437.5 610.5,767.5 201.3,767.5" fill="none" stroke="#56957a" stroke-width="1.3"/><polyline points="177.3,791.0 587.0,791.0 610.5,767.5" fill="none" stroke="#56957a" stroke-width="1.3"/><text x="177.3" y="818" text-anchor="middle" font-size="12" fill="#404040" stroke="#404040" stroke-width="0.2">0</text><text x="255.3" y="818" text-anchor="middle" font-size="12" fill="#404040" stroke="#404040" stroke-width="0.2">20</text><text x="333.3" y="818" text-anchor="middle" font-size="12" fill="#404040" stroke="#404040" stroke-width="0.2">40</text><text x="411.3" y="818" text-anchor="middle" font-size="12" fill="#404040" stroke="#404040" stroke-width="0.2">60</text><text x="489.3" y="818" text-anchor="middle" font-size="12" fill="#404040" stroke="#404040" stroke-width="0.2">80</text><text x="567.3" y="818" text-anchor="middle" font-size="12" fill="#404040" stroke="#404040" stroke-width="0.2">100</text><text x="164" y="479.4" text-anchor="end" font-size="12.2" fill="#363636" stroke="#363636" stroke-width="0.2">TV Mülheim 2</text><text x="164" y="507.0" text-anchor="end" font-size="12.2" fill="#363636" stroke="#363636" stroke-width="0.2">SSV Einrich-Kördorf</text><text x="164" y="534.6" text-anchor="end" font-size="12.2" fill="#363636" stroke="#363636" stroke-width="0.2">TSG Ohren</text><text x="164" y="562.1" text-anchor="end" font-size="12.2" fill="#363636" stroke="#363636" stroke-width="0.2">DJK Ochtendung</text><text x="164" y="589.8" text-anchor="end" font-size="12.2" fill="#363636" stroke="#363636" stroke-width="0.2">TSV Moselfeuer Lehmen</text><text x="164" y="617.4" text-anchor="end" font-size="12.2" fill="#363636" stroke="#363636" stroke-width="0.2">TV Mülheim 3</text><text x="164" y="645.0" text-anchor="end" font-size="12.2" fill="#363636" stroke="#363636" stroke-width="0.2">SV Urmitz</text><text x="164" y="672.6" text-anchor="end" font-size="12.2" fill="#363636" stroke="#363636" stroke-width="0.2">TG Oberlahnstein</text><text x="164" y="700.1" text-anchor="end" font-size="12.2" fill="#363636" stroke="#363636" stroke-width="0.2">TV Jahn Eitelborn 2</text><text x="164" y="727.8" text-anchor="end" font-size="12.2" fill="#363636" stroke="#363636" stroke-width="0.2">TV Arzbach</text><text x="164" y="755.4" text-anchor="end" font-size="12.2" fill="#363636" stroke="#363636" stroke-width="0.2">TuS Attenhausen 2</text><text x="164" y="783.0" text-anchor="end" font-size="12.2" fill="#363636" stroke="#363636" stroke-width="0.2">TuS Attenhausen 1</text><defs><linearGradient id="gw" x1="0" y1="0" x2="0" y2="1"><stop offset="0" stop-color="#c0c7d6"/><stop offset="0.22" stop-color="#f7f8fb"/><stop offset="0.5" stop-color="#eceff4"/><stop offset="0.88" stop-color="#d6dbe5"/><stop offset="1" stop-color="#737b92"/></linearGradient><linearGradient id="gr" x1="0" y1="0" x2="0" y2="1"><stop offset="0" stop-color="#b04440"/><stop offset="0.22" stop-color="#d0605c"/><stop offset="0.5" stop-color="#c2504c"/><stop offset="0.88" stop-color="#a23e3b"/><stop offset="1" stop-color="#6c2a28"/></linearGradient><linearGradient id="gg" x1="0" y1="0" x2="0" y2="1"><stop offset="0" stop-color="#8aaa50"/><stop offset="0.22" stop-color="#a8c868"/><stop offset="0.5" stop-color="#98b858"/><stop offset="0.88" stop-color="#80a04a"/><stop offset="1" stop-color="#50702a"/></linearGradient><linearGradient id="gp" x1="0" y1="0" x2="0" y2="1"><stop offset="0" stop-color="#705494"/><stop offset="0.22" stop-color="#8e70b0"/><stop offset="0.5" stop-color="#7e62a2"/><stop offset="0.88" stop-color="#684c8c"/><stop offset="1" stop-color="#42305e"/></linearGradient><linearGradient id="gt" x1="0" y1="0" x2="0" y2="1"><stop offset="0" stop-color="#40a0b8"/><stop offset="0.22" stop-color="#5cbcd4"/><stop offset="0.5" stop-color="#48aac4"/><stop offset="0.88" stop-color="#3a96ae"/><stop offset="1" stop-color="#246476"/></linearGradient><linearGradient id="go" x1="0" y1="0" x2="0" y2="1"><stop offset="0" stop-color="#e48838"/><stop offset="0.22" stop-color="#fba458"/><stop offset="0.5" stop-color="#f29240"/><stop offset="0.88" stop-color="#e08030"/><stop offset="1" stop-color="#a0541c"/></linearGradient><linearGradient id="gb" x1="0" y1="0" x2="0" y2="1"><stop offset="0" stop-color="#98aee0"/><stop offset="0.22" stop-color="#bccff2"/><stop offset="0.5" stop-color="#a8bde6"/><stop offset="0.88" stop-color="#92a8d8"/><stop offset="1" stop-color="#64799f"/></linearGradient><linearGradient id="gk" x1="0" y1="0" x2="0" y2="1"><stop offset="0" stop-color="#d49494"/><stop offset="0.22" stop-color="#eeb4b4"/><stop offset="0.5" stop-color="#e4a2a2"/><stop offset="0.88" stop-color="#d29090"/><stop offset="1" stop-color="#946060"/></linearGradient><linearGradient id="gcap" x1="0" y1="0" x2="0" y2="1"><stop offset="0" stop-color="#9a6464"/><stop offset="0.35" stop-color="#b98080"/><stop offset="0.7" stop-color="#b07676"/><stop offset="1" stop-color="#8a5656"/></linearGradient></defs><path d="M189.50,448.79 L240.20,448.79 A4.5,14.05 0 0 1 240.20,476.89 L189.50,476.89 A4.5,14.05 0 0 1 189.50,448.79 Z" fill="url(#gw)"/><path d="M240.20,448.79 L290.90,448.79 A4.5,14.05 0 0 1 290.90,476.89 L240.20,476.89 A4.5,14.05 0 0 1 240.20,448.79 Z" fill="url(#gr)"/><path d="M290.90,448.79 L337.70,448.79 A4.5,14.05 0 0 1 337.70,476.89 L290.90,476.89 A4.5,14.05 0 0 1 290.90,448.79 Z" fill="url(#gg)"/><path d="M337.70,448.79 L384.50,448.79 A4.5,14.05 0 0 1 384.50,476.89 L337.70,476.89 A4.5,14.05 0 0 1 337.70,448.79 Z" fill="url(#gp)"/><path d="M384.50,448.79 L435.20,448.79 A4.5,14.05 0 0 1 435.20,476.89 L384.50,476.89 A4.5,14.05 0 0 1 384.50,448.79 Z" fill="url(#gt)"/><path d="M435.20,448.79 L485.90,448.79 A4.5,14.05 0 0 1 485.90,476.89 L435.20,476.89 A4.5,14.05 0 0 1 435.20,448.79 Z" fill="url(#go)"/><path d="M485.90,448.79 L536.60,448.79 A4.5,14.05 0 0 1 536.60,476.89 L485.90,476.89 A4.5,14.05 0 0 1 485.90,448.79 Z" fill="url(#gb)"/><path d="M536.60,448.79 L587.30,448.79 A4.5,14.05 0 0 1 587.30,476.89 L536.60,476.89 A4.5,14.05 0 0 1 536.60,448.79 Z" fill="url(#gk)"/><ellipse cx="587.30" cy="462.84" rx="4.5" ry="14.05" fill="url(#gcap)"/><text transform="translate(209.8,473.8) scale(1.15,1)" text-anchor="middle" font-size="16.5" font-weight="bold" fill="#000">13</text><text transform="translate(260.5,473.8) scale(1.15,1)" text-anchor="middle" font-size="16.5" font-weight="bold" fill="#f4e4e0">13</text><text transform="translate(309.3,473.8) scale(1.15,1)" text-anchor="middle" font-size="16.5" font-weight="bold" fill="#f0f4e0">12</text><text transform="translate(356.1,473.8) scale(1.15,1)" text-anchor="middle" font-size="16.5" font-weight="bold" fill="#ffffff">12</text><text transform="translate(404.9,473.8) scale(1.15,1)" text-anchor="middle" font-size="16.5" font-weight="bold" fill="#e6f6fa">13</text><text transform="translate(455.5,473.8) scale(1.15,1)" text-anchor="middle" font-size="16.5" font-weight="bold" fill="#000">13</text><text transform="translate(506.2,473.8) scale(1.15,1)" text-anchor="middle" font-size="16.5" font-weight="bold" fill="#000">13</text><text transform="translate(557.0,473.8) scale(1.15,1)" text-anchor="middle" font-size="16.5" font-weight="bold" fill="#000">13</text><path d="M189.50,476.36 L228.50,476.36 A4.5,14.05 0 0 1 228.50,504.46 L189.50,504.46 A4.5,14.05 0 0 1 189.50,476.36 Z" fill="url(#gw)"/><path d="M228.50,476.36 L271.40,476.36 A4.5,14.05 0 0 1 271.40,504.46 L228.50,504.46 A4.5,14.05 0 0 1 228.50,476.36 Z" fill="url(#gr)"/><path d="M271.40,476.36 L322.10,476.36 A4.5,14.05 0 0 1 322.10,504.46 L271.40,504.46 A4.5,14.05 0 0 1 271.40,476.36 Z" fill="url(#gg)"/><path d="M322.10,476.36 L365.00,476.36 A4.5,14.05 0 0 1 365.00,504.46 L322.10,504.46 A4.5,14.05 0 0 1 322.10,476.36 Z" fill="url(#gp)"/><path d="M365.00,476.36 L411.80,476.36 A4.5,14.05 0 0 1 411.80,504.46 L365.00,504.46 A4.5,14.05 0 0 1 365.00,476.36 Z" fill="url(#gt)"/><path d="M411.80,476.36 L427.40,476.36 A4.5,14.05 0 0 1 427.40,504.46 L411.80,504.46 A4.5,14.05 0 0 1 411.80,476.36 Z" fill="url(#go)"/><path d="M427.40,476.36 L454.70,476.36 A4.5,14.05 0 0 1 454.70,504.46 L427.40,504.46 A4.5,14.05 0 0 1 427.40,476.36 Z" fill="url(#gb)"/><path d="M454.70,476.36 L497.60,476.36 A4.5,14.05 0 0 1 497.60,504.46 L454.70,504.46 A4.5,14.05 0 0 1 454.70,476.36 Z" fill="url(#gk)"/><ellipse cx="497.60" cy="490.41" rx="4.5" ry="14.05" fill="url(#gcap)"/><text transform="translate(204.0,501.4) scale(1.15,1)" text-anchor="middle" font-size="16.5" font-weight="bold" fill="#000">10</text><text transform="translate(244.9,501.4) scale(1.15,1)" text-anchor="middle" font-size="16.5" font-weight="bold" fill="#f4e4e0">11</text><text transform="translate(291.8,501.4) scale(1.15,1)" text-anchor="middle" font-size="16.5" font-weight="bold" fill="#f0f4e0">13</text><text transform="translate(338.5,501.4) scale(1.15,1)" text-anchor="middle" font-size="16.5" font-weight="bold" fill="#ffffff">11</text><text transform="translate(383.4,501.4) scale(1.15,1)" text-anchor="middle" font-size="16.5" font-weight="bold" fill="#e6f6fa">12</text><text transform="translate(414.6,501.4) scale(1.15,1)" text-anchor="middle" font-size="16.5" font-weight="bold" fill="#000">4</text><text transform="translate(436.0,501.4) scale(1.15,1)" text-anchor="middle" font-size="16.5" font-weight="bold" fill="#000">7</text><text transform="translate(471.1,501.4) scale(1.15,1)" text-anchor="middle" font-size="16.5" font-weight="bold" fill="#000">11</text><path d="M189.50,503.92 L236.30,503.92 A4.5,14.05 0 0 1 236.30,532.02 L189.50,532.02 A4.5,14.05 0 0 1 189.50,503.92 Z" fill="url(#gw)"/><path d="M236.30,503.92 L255.80,503.92 A4.5,14.05 0 0 1 255.80,532.02 L236.30,532.02 A4.5,14.05 0 0 1 236.30,503.92 Z" fill="url(#gr)"/><path d="M255.80,503.92 L294.80,503.92 A4.5,14.05 0 0 1 294.80,532.02 L255.80,532.02 A4.5,14.05 0 0 1 255.80,503.92 Z" fill="url(#gg)"/><path d="M294.80,503.92 L333.80,503.92 A4.5,14.05 0 0 1 333.80,532.02 L294.80,532.02 A4.5,14.05 0 0 1 294.80,503.92 Z" fill="url(#gp)"/><path d="M333.80,503.92 L376.70,503.92 A4.5,14.05 0 0 1 376.70,532.02 L333.80,532.02 A4.5,14.05 0 0 1 333.80,503.92 Z" fill="url(#gt)"/><path d="M376.70,503.92 L415.70,503.92 A4.5,14.05 0 0 1 415.70,532.02 L376.70,532.02 A4.5,14.05 0 0 1 376.70,503.92 Z" fill="url(#go)"/><path d="M415.70,503.92 L462.50,503.92 A4.5,14.05 0 0 1 462.50,532.02 L415.70,532.02 A4.5,14.05 0 0 1 415.70,503.92 Z" fill="url(#gb)"/><path d="M462.50,503.92 L489.80,503.92 A4.5,14.05 0 0 1 489.80,532.02 L462.50,532.02 A4.5,14.05 0 0 1 462.50,503.92 Z" fill="url(#gk)"/><ellipse cx="489.80" cy="517.97" rx="4.5" ry="14.05" fill="url(#gcap)"/><text transform="translate(207.9,529.0) scale(1.15,1)" text-anchor="middle" font-size="16.5" font-weight="bold" fill="#000">12</text><text transform="translate(241.1,529.0) scale(1.15,1)" text-anchor="middle" font-size="16.5" font-weight="bold" fill="#f4e4e0">5</text><text transform="translate(270.3,529.0) scale(1.15,1)" text-anchor="middle" font-size="16.5" font-weight="bold" fill="#f0f4e0">10</text><text transform="translate(309.3,529.0) scale(1.15,1)" text-anchor="middle" font-size="16.5" font-weight="bold" fill="#ffffff">10</text><text transform="translate(350.2,529.0) scale(1.15,1)" text-anchor="middle" font-size="16.5" font-weight="bold" fill="#e6f6fa">11</text><text transform="translate(391.2,529.0) scale(1.15,1)" text-anchor="middle" font-size="16.5" font-weight="bold" fill="#000">10</text><text transform="translate(434.1,529.0) scale(1.15,1)" text-anchor="middle" font-size="16.5" font-weight="bold" fill="#000">12</text><text transform="translate(471.1,529.0) scale(1.15,1)" text-anchor="middle" font-size="16.5" font-weight="bold" fill="#000">7</text><path d="M189.50,531.50 L232.40,531.50 A4.5,14.05 0 0 1 232.40,559.59 L189.50,559.59 A4.5,14.05 0 0 1 189.50,531.50 Z" fill="url(#gw)"/><path d="M232.40,531.50 L255.80,531.50 A4.5,14.05 0 0 1 255.80,559.59 L232.40,559.59 A4.5,14.05 0 0 1 232.40,531.50 Z" fill="url(#gr)"/><path d="M255.80,531.50 L298.70,531.50 A4.5,14.05 0 0 1 298.70,559.59 L255.80,559.59 A4.5,14.05 0 0 1 255.80,531.50 Z" fill="url(#gg)"/><path d="M298.70,531.50 L326.00,531.50 A4.5,14.05 0 0 1 326.00,559.59 L298.70,559.59 A4.5,14.05 0 0 1 298.70,531.50 Z" fill="url(#gp)"/><path d="M326.00,531.50 L353.30,531.50 A4.5,14.05 0 0 1 353.30,559.59 L326.00,559.59 A4.5,14.05 0 0 1 326.00,531.50 Z" fill="url(#go)"/><path d="M353.30,531.50 L392.30,531.50 A4.5,14.05 0 0 1 392.30,559.59 L353.30,559.59 A4.5,14.05 0 0 1 353.30,531.50 Z" fill="url(#gb)"/><path d="M392.30,531.50 L439.10,531.50 A4.5,14.05 0 0 1 439.10,559.59 L392.30,559.59 A4.5,14.05 0 0 1 392.30,531.50 Z" fill="url(#gk)"/><ellipse cx="439.10" cy="545.54" rx="4.5" ry="14.05" fill="url(#gcap)"/><text transform="translate(205.9,556.5) scale(1.15,1)" text-anchor="middle" font-size="16.5" font-weight="bold" fill="#000">11</text><text transform="translate(239.1,556.5) scale(1.15,1)" text-anchor="middle" font-size="16.5" font-weight="bold" fill="#f4e4e0">6</text><text transform="translate(272.2,556.5) scale(1.15,1)" text-anchor="middle" font-size="16.5" font-weight="bold" fill="#f0f4e0">11</text><text transform="translate(307.4,556.5) scale(1.15,1)" text-anchor="middle" font-size="16.5" font-weight="bold" fill="#ffffff">7</text><text transform="translate(321.0,556.5) scale(1.15,1)" text-anchor="middle" font-size="16.5" font-weight="bold" fill="#e6f6fa">0</text><text transform="translate(334.6,556.5) scale(1.15,1)" text-anchor="middle" font-size="16.5" font-weight="bold" fill="#000">7</text><text transform="translate(367.8,556.5) scale(1.15,1)" text-anchor="middle" font-size="16.5" font-weight="bold" fill="#000">10</text><text transform="translate(410.7,556.5) scale(1.15,1)" text-anchor="middle" font-size="16.5" font-weight="bold" fill="#000">12</text><path d="M189.50,559.07 L216.80,559.07 A4.5,14.05 0 0 1 216.80,587.16 L189.50,587.16 A4.5,14.05 0 0 1 189.50,559.07 Z" fill="url(#gw)"/><path d="M216.80,559.07 L255.80,559.07 A4.5,14.05 0 0 1 255.80,587.16 L216.80,587.16 A4.5,14.05 0 0 1 216.80,559.07 Z" fill="url(#gr)"/><path d="M255.80,559.07 L290.90,559.07 A4.5,14.05 0 0 1 290.90,587.16 L255.80,587.16 A4.5,14.05 0 0 1 255.80,559.07 Z" fill="url(#gg)"/><path d="M290.90,559.07 L329.90,559.07 A4.5,14.05 0 0 1 329.90,587.16 L290.90,587.16 A4.5,14.05 0 0 1 290.90,559.07 Z" fill="url(#gt)"/><path d="M329.90,559.07 L372.80,559.07 A4.5,14.05 0 0 1 372.80,587.16 L329.90,587.16 A4.5,14.05 0 0 1 329.90,559.07 Z" fill="url(#go)"/><path d="M372.80,559.07 L415.70,559.07 A4.5,14.05 0 0 1 415.70,587.16 L372.80,587.16 A4.5,14.05 0 0 1 372.80,559.07 Z" fill="url(#gb)"/><path d="M415.70,559.07 L435.20,559.07 A4.5,14.05 0 0 1 435.20,587.16 L415.70,587.16 A4.5,14.05 0 0 1 415.70,559.07 Z" fill="url(#gk)"/><ellipse cx="435.20" cy="573.12" rx="4.5" ry="14.05" fill="url(#gcap)"/><text transform="translate(198.2,584.1) scale(1.15,1)" text-anchor="middle" font-size="16.5" font-weight="bold" fill="#000">7</text><text transform="translate(231.3,584.1) scale(1.15,1)" text-anchor="middle" font-size="16.5" font-weight="bold" fill="#f4e4e0">10</text><text transform="translate(268.4,584.1) scale(1.15,1)" text-anchor="middle" font-size="16.5" font-weight="bold" fill="#f0f4e0">9</text><text transform="translate(285.9,584.1) scale(1.15,1)" text-anchor="middle" font-size="16.5" font-weight="bold" fill="#ffffff">0</text><text transform="translate(305.4,584.1) scale(1.15,1)" text-anchor="middle" font-size="16.5" font-weight="bold" fill="#e6f6fa">10</text><text transform="translate(346.4,584.1) scale(1.15,1)" text-anchor="middle" font-size="16.5" font-weight="bold" fill="#000">11</text><text transform="translate(389.2,584.1) scale(1.15,1)" text-anchor="middle" font-size="16.5" font-weight="bold" fill="#000">11</text><text transform="translate(420.4,584.1) scale(1.15,1)" text-anchor="middle" font-size="16.5" font-weight="bold" fill="#000">5</text><path d="M189.50,586.63 L224.60,586.63 A4.5,14.05 0 0 1 224.60,614.73 L189.50,614.73 A4.5,14.05 0 0 1 189.50,586.63 Z" fill="url(#gw)"/><path d="M224.60,586.63 L271.40,586.63 A4.5,14.05 0 0 1 271.40,614.73 L224.60,614.73 A4.5,14.05 0 0 1 224.60,586.63 Z" fill="url(#gr)"/><path d="M271.40,586.63 L298.70,586.63 A4.5,14.05 0 0 1 298.70,614.73 L271.40,614.73 A4.5,14.05 0 0 1 271.40,586.63 Z" fill="url(#gg)"/><path d="M298.70,586.63 L318.20,586.63 A4.5,14.05 0 0 1 318.20,614.73 L298.70,614.73 A4.5,14.05 0 0 1 298.70,586.63 Z" fill="url(#gp)"/><path d="M318.20,586.63 L349.40,586.63 A4.5,14.05 0 0 1 349.40,614.73 L318.20,614.73 A4.5,14.05 0 0 1 318.20,586.63 Z" fill="url(#gt)"/><path d="M349.40,586.63 L372.80,586.63 A4.5,14.05 0 0 1 372.80,614.73 L349.40,614.73 A4.5,14.05 0 0 1 349.40,586.63 Z" fill="url(#go)"/><path d="M372.80,586.63 L392.30,586.63 A4.5,14.05 0 0 1 392.30,614.73 L372.80,614.73 A4.5,14.05 0 0 1 372.80,586.63 Z" fill="url(#gb)"/><path d="M392.30,586.63 L423.50,586.63 A4.5,14.05 0 0 1 423.50,614.73 L392.30,614.73 A4.5,14.05 0 0 1 392.30,586.63 Z" fill="url(#gk)"/><ellipse cx="423.50" cy="600.68" rx="4.5" ry="14.05" fill="url(#gcap)"/><text transform="translate(202.1,611.7) scale(1.15,1)" text-anchor="middle" font-size="16.5" font-weight="bold" fill="#000">9</text><text transform="translate(243.0,611.7) scale(1.15,1)" text-anchor="middle" font-size="16.5" font-weight="bold" fill="#f4e4e0">12</text><text transform="translate(280.0,611.7) scale(1.15,1)" text-anchor="middle" font-size="16.5" font-weight="bold" fill="#f0f4e0">7</text><text transform="translate(303.4,611.7) scale(1.15,1)" text-anchor="middle" font-size="16.5" font-weight="bold" fill="#ffffff">5</text><text transform="translate(328.8,611.7) scale(1.15,1)" text-anchor="middle" font-size="16.5" font-weight="bold" fill="#e6f6fa">8</text><text transform="translate(356.1,611.7) scale(1.15,1)" text-anchor="middle" font-size="16.5" font-weight="bold" fill="#000">6</text><text transform="translate(377.5,611.7) scale(1.15,1)" text-anchor="middle" font-size="16.5" font-weight="bold" fill="#000">5</text><text transform="translate(402.9,611.7) scale(1.15,1)" text-anchor="middle" font-size="16.5" font-weight="bold" fill="#000">8</text><path d="M189.50,614.21 L212.90,614.21 A4.5,14.05 0 0 1 212.90,642.30 L189.50,642.30 A4.5,14.05 0 0 1 189.50,614.21 Z" fill="url(#gw)"/><path d="M212.90,614.21 L248.00,614.21 A4.5,14.05 0 0 1 248.00,642.30 L212.90,642.30 A4.5,14.05 0 0 1 212.90,614.21 Z" fill="url(#gr)"/><path d="M248.00,614.21 L267.50,614.21 A4.5,14.05 0 0 1 267.50,642.30 L248.00,642.30 A4.5,14.05 0 0 1 248.00,614.21 Z" fill="url(#gg)"/><path d="M267.50,614.21 L318.20,614.21 A4.5,14.05 0 0 1 318.20,642.30 L267.50,642.30 A4.5,14.05 0 0 1 267.50,614.21 Z" fill="url(#gp)"/><path d="M318.20,614.21 L353.30,614.21 A4.5,14.05 0 0 1 353.30,642.30 L318.20,642.30 A4.5,14.05 0 0 1 318.20,614.21 Z" fill="url(#gt)"/><path d="M353.30,614.21 L400.10,614.21 A4.5,14.05 0 0 1 400.10,642.30 L353.30,642.30 A4.5,14.05 0 0 1 353.30,614.21 Z" fill="url(#go)"/><path d="M400.10,614.21 L411.80,614.21 A4.5,14.05 0 0 1 411.80,642.30 L400.10,642.30 A4.5,14.05 0 0 1 400.10,614.21 Z" fill="url(#gb)"/><path d="M411.80,614.21 L423.50,614.21 A4.5,14.05 0 0 1 423.50,642.30 L411.80,642.30 A4.5,14.05 0 0 1 411.80,614.21 Z" fill="url(#gk)"/><ellipse cx="423.50" cy="628.25" rx="4.5" ry="14.05" fill="url(#gcap)"/><text transform="translate(196.2,639.3) scale(1.15,1)" text-anchor="middle" font-size="16.5" font-weight="bold" fill="#000">6</text><text transform="translate(225.4,639.3) scale(1.15,1)" text-anchor="middle" font-size="16.5" font-weight="bold" fill="#f4e4e0">9</text><text transform="translate(252.8,639.3) scale(1.15,1)" text-anchor="middle" font-size="16.5" font-weight="bold" fill="#f0f4e0">5</text><text transform="translate(287.9,639.3) scale(1.15,1)" text-anchor="middle" font-size="16.5" font-weight="bold" fill="#ffffff">13</text><text transform="translate(330.8,639.3) scale(1.15,1)" text-anchor="middle" font-size="16.5" font-weight="bold" fill="#e6f6fa">9</text><text transform="translate(371.7,639.3) scale(1.15,1)" text-anchor="middle" font-size="16.5" font-weight="bold" fill="#000">12</text><text transform="translate(401.0,639.3) scale(1.15,1)" text-anchor="middle" font-size="16.5" font-weight="bold" fill="#000">3</text><text transform="translate(412.6,639.3) scale(1.15,1)" text-anchor="middle" font-size="16.5" font-weight="bold" fill="#000">3</text><path d="M189.50,641.77 L220.70,641.77 A4.5,14.05 0 0 1 220.70,669.87 L189.50,669.87 A4.5,14.05 0 0 1 189.50,641.77 Z" fill="url(#gw)"/><path d="M220.70,641.77 L251.90,641.77 A4.5,14.05 0 0 1 251.90,669.87 L220.70,669.87 A4.5,14.05 0 0 1 220.70,641.77 Z" fill="url(#gr)"/><path d="M251.90,641.77 L275.30,641.77 A4.5,14.05 0 0 1 275.30,669.87 L251.90,669.87 A4.5,14.05 0 0 1 251.90,641.77 Z" fill="url(#gg)"/><path d="M275.30,641.77 L306.50,641.77 A4.5,14.05 0 0 1 306.50,669.87 L275.30,669.87 A4.5,14.05 0 0 1 275.30,641.77 Z" fill="url(#gp)"/><path d="M306.50,641.77 L341.60,641.77 A4.5,14.05 0 0 1 341.60,669.87 L306.50,669.87 A4.5,14.05 0 0 1 306.50,641.77 Z" fill="url(#go)"/><path d="M341.60,641.77 L365.00,641.77 A4.5,14.05 0 0 1 365.00,669.87 L341.60,669.87 A4.5,14.05 0 0 1 341.60,641.77 Z" fill="url(#gb)"/><path d="M365.00,641.77 L388.40,641.77 A4.5,14.05 0 0 1 388.40,669.87 L365.00,669.87 A4.5,14.05 0 0 1 365.00,641.77 Z" fill="url(#gk)"/><ellipse cx="388.40" cy="655.82" rx="4.5" ry="14.05" fill="url(#gcap)"/><text transform="translate(200.1,666.8) scale(1.15,1)" text-anchor="middle" font-size="16.5" font-weight="bold" fill="#000">8</text><text transform="translate(231.3,666.8) scale(1.15,1)" text-anchor="middle" font-size="16.5" font-weight="bold" fill="#f4e4e0">8</text><text transform="translate(258.6,666.8) scale(1.15,1)" text-anchor="middle" font-size="16.5" font-weight="bold" fill="#f0f4e0">6</text><text transform="translate(285.9,666.8) scale(1.15,1)" text-anchor="middle" font-size="16.5" font-weight="bold" fill="#ffffff">8</text><text transform="translate(301.5,666.8) scale(1.15,1)" text-anchor="middle" font-size="16.5" font-weight="bold" fill="#e6f6fa">0</text><text transform="translate(319.0,666.8) scale(1.15,1)" text-anchor="middle" font-size="16.5" font-weight="bold" fill="#000">9</text><text transform="translate(348.3,666.8) scale(1.15,1)" text-anchor="middle" font-size="16.5" font-weight="bold" fill="#000">6</text><text transform="translate(371.7,666.8) scale(1.15,1)" text-anchor="middle" font-size="16.5" font-weight="bold" fill="#000">6</text><path d="M189.50,669.35 L205.10,669.35 A4.5,14.05 0 0 1 205.10,697.44 L189.50,697.44 A4.5,14.05 0 0 1 189.50,669.35 Z" fill="url(#gw)"/><path d="M205.10,669.35 L220.70,669.35 A4.5,14.05 0 0 1 220.70,697.44 L205.10,697.44 A4.5,14.05 0 0 1 205.10,669.35 Z" fill="url(#gr)"/><path d="M220.70,669.35 L236.30,669.35 A4.5,14.05 0 0 1 236.30,697.44 L220.70,697.44 A4.5,14.05 0 0 1 220.70,669.35 Z" fill="url(#gg)"/><path d="M236.30,669.35 L271.40,669.35 A4.5,14.05 0 0 1 271.40,697.44 L236.30,697.44 A4.5,14.05 0 0 1 236.30,669.35 Z" fill="url(#gp)"/><path d="M271.40,669.35 L298.70,669.35 A4.5,14.05 0 0 1 298.70,697.44 L271.40,697.44 A4.5,14.05 0 0 1 271.40,669.35 Z" fill="url(#gt)"/><path d="M298.70,669.35 L310.40,669.35 A4.5,14.05 0 0 1 310.40,697.44 L298.70,697.44 A4.5,14.05 0 0 1 298.70,669.35 Z" fill="url(#go)"/><path d="M310.40,669.35 L345.50,669.35 A4.5,14.05 0 0 1 345.50,697.44 L310.40,697.44 A4.5,14.05 0 0 1 310.40,669.35 Z" fill="url(#gb)"/><path d="M345.50,669.35 L384.50,669.35 A4.5,14.05 0 0 1 384.50,697.44 L345.50,697.44 A4.5,14.05 0 0 1 345.50,669.35 Z" fill="url(#gk)"/><ellipse cx="384.50" cy="683.39" rx="4.5" ry="14.05" fill="url(#gcap)"/><text transform="translate(192.3,694.4) scale(1.15,1)" text-anchor="middle" font-size="16.5" font-weight="bold" fill="#000">4</text><text transform="translate(207.9,694.4) scale(1.15,1)" text-anchor="middle" font-size="16.5" font-weight="bold" fill="#f4e4e0">4</text><text transform="translate(223.5,694.4) scale(1.15,1)" text-anchor="middle" font-size="16.5" font-weight="bold" fill="#f0f4e0">4</text><text transform="translate(248.8,694.4) scale(1.15,1)" text-anchor="middle" font-size="16.5" font-weight="bold" fill="#ffffff">9</text><text transform="translate(280.0,694.4) scale(1.15,1)" text-anchor="middle" font-size="16.5" font-weight="bold" fill="#e6f6fa">7</text><text transform="translate(299.5,694.4) scale(1.15,1)" text-anchor="middle" font-size="16.5" font-weight="bold" fill="#000">3</text><text transform="translate(322.9,694.4) scale(1.15,1)" text-anchor="middle" font-size="16.5" font-weight="bold" fill="#000">9</text><text transform="translate(360.0,694.4) scale(1.15,1)" text-anchor="middle" font-size="16.5" font-weight="bold" fill="#000">10</text><path d="M189.50,696.91 L201.20,696.91 A4.5,14.05 0 0 1 201.20,725.01 L189.50,725.01 A4.5,14.05 0 0 1 189.50,696.91 Z" fill="url(#gw)"/><path d="M201.20,696.91 L228.50,696.91 A4.5,14.05 0 0 1 228.50,725.01 L201.20,725.01 A4.5,14.05 0 0 1 201.20,696.91 Z" fill="url(#gr)"/><path d="M228.50,696.91 L259.70,696.91 A4.5,14.05 0 0 1 259.70,725.01 L228.50,725.01 A4.5,14.05 0 0 1 228.50,696.91 Z" fill="url(#gg)"/><path d="M259.70,696.91 L279.20,696.91 A4.5,14.05 0 0 1 279.20,725.01 L259.70,725.01 A4.5,14.05 0 0 1 259.70,696.91 Z" fill="url(#gt)"/><path d="M279.20,696.91 L310.40,696.91 A4.5,14.05 0 0 1 310.40,725.01 L279.20,725.01 A4.5,14.05 0 0 1 279.20,696.91 Z" fill="url(#go)"/><path d="M310.40,696.91 L341.60,696.91 A4.5,14.05 0 0 1 341.60,725.01 L310.40,725.01 A4.5,14.05 0 0 1 310.40,696.91 Z" fill="url(#gb)"/><path d="M341.60,696.91 L376.70,696.91 A4.5,14.05 0 0 1 376.70,725.01 L341.60,725.01 A4.5,14.05 0 0 1 341.60,696.91 Z" fill="url(#gk)"/><ellipse cx="376.70" cy="710.96" rx="4.5" ry="14.05" fill="url(#gcap)"/><text transform="translate(190.3,722.0) scale(1.15,1)" text-anchor="middle" font-size="16.5" font-weight="bold" fill="#000">3</text><text transform="translate(209.8,722.0) scale(1.15,1)" text-anchor="middle" font-size="16.5" font-weight="bold" fill="#f4e4e0">7</text><text transform="translate(239.1,722.0) scale(1.15,1)" text-anchor="middle" font-size="16.5" font-weight="bold" fill="#f0f4e0">8</text><text transform="translate(254.7,722.0) scale(1.15,1)" text-anchor="middle" font-size="16.5" font-weight="bold" fill="#ffffff">0</text><text transform="translate(264.4,722.0) scale(1.15,1)" text-anchor="middle" font-size="16.5" font-weight="bold" fill="#e6f6fa">5</text><text transform="translate(289.8,722.0) scale(1.15,1)" text-anchor="middle" font-size="16.5" font-weight="bold" fill="#000">8</text><text transform="translate(321.0,722.0) scale(1.15,1)" text-anchor="middle" font-size="16.5" font-weight="bold" fill="#000">8</text><text transform="translate(354.1,722.0) scale(1.15,1)" text-anchor="middle" font-size="16.5" font-weight="bold" fill="#000">9</text><path d="M189.50,724.49 L209.00,724.49 A4.5,14.05 0 0 1 209.00,752.58 L189.50,752.58 A4.5,14.05 0 0 1 189.50,724.49 Z" fill="url(#gw)"/><path d="M209.00,724.49 L216.80,724.49 A4.5,14.05 0 0 1 216.80,752.58 L209.00,752.58 A4.5,14.05 0 0 1 209.00,724.49 Z" fill="url(#gr)"/><path d="M216.80,724.49 L228.50,724.49 A4.5,14.05 0 0 1 228.50,752.58 L216.80,752.58 A4.5,14.05 0 0 1 216.80,724.49 Z" fill="url(#gg)"/><path d="M228.50,724.49 L251.90,724.49 A4.5,14.05 0 0 1 251.90,752.58 L228.50,752.58 A4.5,14.05 0 0 1 228.50,724.49 Z" fill="url(#gp)"/><path d="M251.90,724.49 L275.30,724.49 A4.5,14.05 0 0 1 275.30,752.58 L251.90,752.58 A4.5,14.05 0 0 1 251.90,724.49 Z" fill="url(#gt)"/><path d="M275.30,724.49 L294.80,724.49 A4.5,14.05 0 0 1 294.80,752.58 L275.30,752.58 A4.5,14.05 0 0 1 275.30,724.49 Z" fill="url(#go)"/><path d="M294.80,724.49 L310.40,724.49 A4.5,14.05 0 0 1 310.40,752.58 L294.80,752.58 A4.5,14.05 0 0 1 294.80,724.49 Z" fill="url(#gb)"/><path d="M310.40,724.49 L326.00,724.49 A4.5,14.05 0 0 1 326.00,752.58 L310.40,752.58 A4.5,14.05 0 0 1 310.40,724.49 Z" fill="url(#gk)"/><ellipse cx="326.00" cy="738.53" rx="4.5" ry="14.05" fill="url(#gcap)"/><text transform="translate(194.2,749.5) scale(1.15,1)" text-anchor="middle" font-size="16.5" font-weight="bold" fill="#000">5</text><text transform="translate(207.9,749.5) scale(1.15,1)" text-anchor="middle" font-size="16.5" font-weight="bold" fill="#f4e4e0">2</text><text transform="translate(217.7,749.5) scale(1.15,1)" text-anchor="middle" font-size="16.5" font-weight="bold" fill="#f0f4e0">3</text><text transform="translate(235.2,749.5) scale(1.15,1)" text-anchor="middle" font-size="16.5" font-weight="bold" fill="#ffffff">6</text><text transform="translate(258.6,749.5) scale(1.15,1)" text-anchor="middle" font-size="16.5" font-weight="bold" fill="#e6f6fa">6</text><text transform="translate(280.1,749.5) scale(1.15,1)" text-anchor="middle" font-size="16.5" font-weight="bold" fill="#000">5</text><text transform="translate(297.6,749.5) scale(1.15,1)" text-anchor="middle" font-size="16.5" font-weight="bold" fill="#000">4</text><text transform="translate(313.2,749.5) scale(1.15,1)" text-anchor="middle" font-size="16.5" font-weight="bold" fill="#000">4</text><path d="M189.50,752.06 L201.20,752.06 A4.5,14.05 0 0 1 201.20,780.15 L189.50,780.15 A4.5,14.05 0 0 1 189.50,752.06 Z" fill="url(#gr)"/><path d="M201.20,752.06 L209.00,752.06 A4.5,14.05 0 0 1 209.00,780.15 L201.20,780.15 A4.5,14.05 0 0 1 201.20,752.06 Z" fill="url(#gg)"/><ellipse cx="209.00" cy="766.11" rx="4.5" ry="14.05" fill="url(#gcap)"/><text transform="translate(184.5,777.1) scale(1.15,1)" text-anchor="middle" font-size="16.5" font-weight="bold" fill="#000">0</text><text transform="translate(190.3,777.1) scale(1.15,1)" text-anchor="middle" font-size="16.5" font-weight="bold" fill="#f4e4e0">3</text><text transform="translate(200.1,777.1) scale(1.15,1)" text-anchor="middle" font-size="16.5" font-weight="bold" fill="#f0f4e0">2</text><text transform="translate(204.0,777.1) scale(1.15,1)" text-anchor="middle" font-size="16.5" font-weight="bold" fill="#ffffff">0</text><text transform="translate(204.0,777.1) scale(1.15,1)" text-anchor="middle" font-size="16.5" font-weight="bold" fill="#e6f6fa">0</text><text transform="translate(204.0,777.1) scale(1.15,1)" text-anchor="middle" font-size="16.5" font-weight="bold" fill="#000">0</text><text transform="translate(204.0,777.1) scale(1.15,1)" text-anchor="middle" font-size="16.5" font-weight="bold" fill="#000">0</text><text transform="translate(204.0,777.1) scale(1.15,1)" text-anchor="middle" font-size="16.5" font-weight="bold" fill="#000">0</text></g></svg>
</body></html>
